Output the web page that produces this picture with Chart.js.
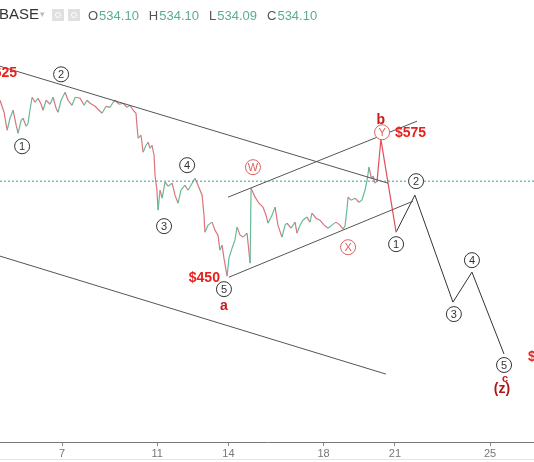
<!DOCTYPE html>
<html>
<head>
<meta charset="utf-8">
<script src="https://cdn.jsdelivr.net/npm/chart.js@4"></script>
<style>
  html, body { margin: 0; padding: 0; background: #fff; }
  #wrap { width: 534px; height: 462px; position: relative; }
</style>
</head>
<body>
<div id="wrap"><canvas id="elliott"></canvas></div>
<script>
// price history (day of month, price)
const priceDays = [4.39,4.56,4.69,4.81,4.94,5.07,5.15,5.28,5.36,5.49,5.57,5.65,5.74,5.86,5.99,6.12,6.20,6.33,6.50,6.62,6.75,6.83,6.96,7.13,7.25,7.42,7.55,7.76,7.93,8.05,8.18,8.39,8.56,8.68,8.85,9.02,9.15,9.23,9.40,9.57,9.73,9.86,9.99,10.11,10.15,10.20,10.32,10.41,10.53,10.62,10.70,10.78,10.87,10.91,10.99,11.04,11.12,11.21,11.33,11.46,11.63,11.75,11.88,12.00,12.17,12.30,12.47,12.59,12.72,12.89,12.97,13.01,13.14,13.31,13.43,13.56,13.64,13.73,13.81,13.94,14.02,14.15,14.27,14.36,14.49,14.61,14.78,14.91,14.95,15.12,15.28,15.45,15.58,15.66,15.83,15.96,16.08,16.25,16.38,16.46,16.63,16.80,16.88,17.01,17.13,17.30,17.43,17.51,17.68,17.85,18.02,18.19,18.35,18.52,18.69,18.82,18.90,18.98,19.03,19.15,19.32,19.49,19.61,19.74,19.83,19.91,20.01,20.08,20.16,20.25];
const prices = [606.4,595.7,579.6,590.3,597.5,584.1,576.9,588.5,590.3,583.2,585.9,597.5,609.1,604.6,608.2,602.8,597.5,606.4,602.8,609.1,599.3,595.7,606.4,613.5,606.4,601.9,609.1,608.2,601.9,606.4,603.7,601.0,597.5,594.8,601.0,600.1,604.6,606.4,602.8,603.7,600.1,601.9,597.5,594.8,584.1,572.5,575.1,560.0,566.2,568.9,563.5,566.2,557.3,539.4,526.0,508.2,526.0,518.9,533.2,529.6,532.3,521.6,514.4,526.0,530.5,526.0,532.3,536.7,530.5,521.6,503.7,488.5,494.8,497.5,490.3,485.8,472.5,476.9,465.3,449.2,465.3,474.2,481.4,493.0,485.8,484.1,487.6,460.8,527.8,519.8,514.4,510.9,503.7,496.6,503.7,510.9,494.8,484.1,494.8,496.6,492.1,497.5,487.6,494.8,499.2,502.0,497.5,505.5,501.0,499.2,494.8,492.1,494.8,497.5,494.8,491.2,493.9,508.2,519.8,517.1,518.9,515.3,517.1,526.0,535.0,546.6,536.7,538.5,532.3,534.1];
const lastPrice = 534.1;

// projected path: b (red) then c in five waves (black)
const projBDays = [20.25, 20.41, 21.05];
const projBPrices = [534.1, 571.5, 488.5];
const projCDays = [21.05, 21.84, 23.44, 24.24, 25.59];
const projCPrices = [488.5, 521.6, 426.0, 452.8, 379.6];

// trend lines [day, price] pairs
const upperFall = [[4.39, 636.8], [20.71, 532.3]];
const lowerFall = [[4.39, 467.1], [20.62, 361.7]];
const chanTop = [[13.98, 519.8], [21.93, 587.7]];
const chanBottom = [[14.02, 448.3], [21.76, 516.2]];

const tickDays = [7, 11, 14, 18, 21, 25];

// wave labels anchored in data space
const blackWaves = [
  ['1', 5.32, 565.3], ['2', 6.96, 629.6], ['3', 11.29, 493.9], ['4', 12.26, 548.4], ['5', 13.81, 437.6],
  ['1', 21.05, 477.8], ['2', 21.89, 534.1], ['3', 23.48, 415.3], ['4', 24.24, 463.5], ['5', 25.59, 369.8]
];
const redWaves = [['W', 15.03, 546.6], ['X', 19.03, 475.1], ['Y', 20.46, 577.8]];

const xy = (d, p) => d.map((v, i) => ({ x: v, y: p[i] }));
const seg = (pts) => pts.map(a => ({ x: a[0], y: a[1] }));

const GREEN = '#66bb98';
const RED = '#d8757d';
const LINE = '#555';

const overlay = {
  id: 'overlay',
  afterDatasetsDraw(chart) {
    const c = chart.ctx, X = chart.scales.x, Y = chart.scales.y;
    const px = d => X.getPixelForValue(d), py = p => Y.getPixelForValue(p);
    c.save();
    c.textAlign = 'center';
    c.textBaseline = 'middle';
    const circ = (t, d, p, stroke, col) => {
      const x = px(d), y = py(p);
      c.beginPath();
      c.arc(x, y, 7.5, 0, Math.PI * 2);
      c.fillStyle = '#fff';
      c.fill();
      c.lineWidth = 1;
      c.strokeStyle = stroke;
      c.stroke();
      c.fillStyle = col;
      c.font = '11px "Liberation Sans", Arial, sans-serif';
      c.fillText(t, x, y + 0.5);
    };
    blackWaves.forEach(w => circ(w[0], w[1], w[2], '#333', '#333'));
    redWaves.forEach(w => circ(w[0], w[1], w[2], '#e06060', '#e06060'));

    const txt = (t, d, p, align, font, col) => {
      c.textAlign = align;
      c.font = font;
      c.fillStyle = col;
      c.fillText(t, px(d), py(p));
    };
    const bold = 'bold 14px "Liberation Sans", Arial, sans-serif';
    txt('$625', 5.11, 630.5, 'right', bold, '#e8201c');
    txt('$450', 13.64, 447.1, 'right', bold, '#e8201c');
    txt('a', 13.81, 422.4, 'center', bold, '#c8181c');
    txt('b', 20.41, 588.5, 'center', bold, '#c8181c');
    txt('$575', 21.0, 576.9, 'left', bold, '#e8201c');
    txt('c', 25.63, 357.2, 'center', 'bold 11px "Liberation Sans", Arial, sans-serif', '#c8181c');
    txt('(z)', 25.50, 348.3, 'center', bold, '#b01818');
    txt('$375', 26.6, 376.9, 'left', bold, '#e8201c');

    // header
    c.textAlign = 'left';
    c.font = '15px "Liberation Sans", Arial, sans-serif';
    c.fillStyle = '#333';
    c.fillText('BASE', -1, 15);
    c.fillStyle = '#bbb';
    c.font = '9px "DejaVu Sans", sans-serif';
    c.fillText('\u25BE', 40, 15);
    c.fillStyle = '#e0e0e0';
    c.fillRect(52, 9, 12, 12);
    c.fillRect(68, 9, 12, 12);
    c.strokeStyle = '#fff';
    c.beginPath(); c.arc(58, 15, 2.5, 0, Math.PI * 2); c.stroke();
    c.beginPath(); c.arc(74, 15, 2.5, 0, Math.PI * 2); c.stroke();
    c.font = '13px "Liberation Sans", Arial, sans-serif';
    let x = 88;
    [['O', '534.10'], ['H', '534.10'], ['L', '534.09'], ['C', '534.10']].forEach(([k, v]) => {
      c.fillStyle = '#555';
      c.fillText(k, x, 16);
      x += c.measureText(k).width + 1;
      c.fillStyle = '#5aae8e';
      c.fillText(v, x, 16);
      x += c.measureText(v).width + 10;
    });
    // bottom border
    c.strokeStyle = '#e4e4e4';
    c.beginPath(); c.moveTo(0, 459.5); c.lineTo(534, 459.5); c.stroke();
    c.restore();
  }
};

const line = (data, color, width, extra) => Object.assign({
  data, borderColor: color, borderWidth: width, pointRadius: 0, tension: 0, fill: false
}, extra || {});

new Chart(document.getElementById('elliott'), {
  type: 'line',
  data: {
    datasets: [
      line(seg([[4.39, lastPrice], [26.85, lastPrice]]), '#3b9c9c', 1, { borderDash: [2, 2] }),
      line(seg(upperFall), LINE, 1),
      line(seg(lowerFall), LINE, 1),
      line(seg(chanTop), LINE, 1),
      line(seg(chanBottom), LINE, 1),
      line(xy(priceDays, prices), RED, 1.2, {
        segment: { borderColor: s => s.p1.parsed.y >= s.p0.parsed.y ? GREEN : RED }
      }),
      line(xy(projBDays, projBPrices), '#e0505a', 1.2),
      line(xy(projCDays, projCPrices), '#333', 1)
    ]
  },
  options: {
    animation: false,
    responsive: true,
    maintainAspectRatio: false,
    layout: { padding: 0 },
    plugins: { legend: { display: false }, tooltip: { enabled: false } },
    scales: {
      x: {
        type: 'linear',
        min: 4.39,
        max: 26.85,
        afterBuildTicks: s => { s.ticks = tickDays.map(v => ({ value: v })); },
        afterFit: s => { s.height = 20; },
        grid: { display: true, drawOnChartArea: false, drawTicks: true, tickLength: 4, color: '#888' },
        border: { display: true, color: '#777', width: 1 },
        ticks: {
          padding: 1,
          color: '#777',
          font: { size: 11, family: '"Liberation Sans", Arial, sans-serif' },
          maxRotation: 0
        }
      },
      y: { display: false, min: 301, max: 696 }
    }
  },
  plugins: [overlay]
});
</script>
</body>
</html>
